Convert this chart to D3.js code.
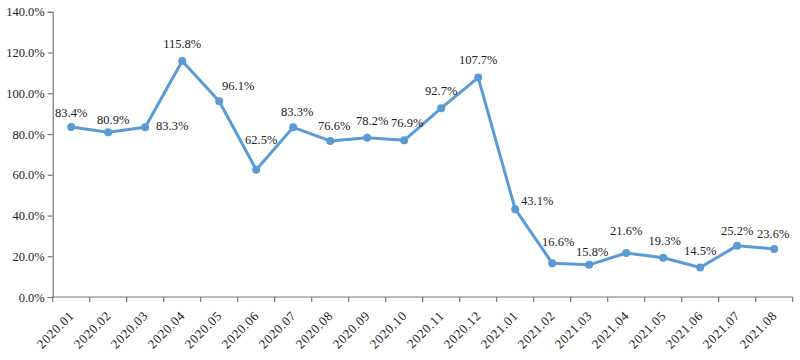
<!DOCTYPE html>
<html><head><meta charset="utf-8">
<script src="https://cdn.jsdelivr.net/npm/d3@7"></script>
<style>
html,body{margin:0;padding:0;background:#fff;}
svg text{font-family:"Liberation Serif","DejaVu Serif",serif;}
</style></head>
<body><svg id="c" width="800" height="360"></svg>
<script>
const categories = ["2020.01","2020.02","2020.03","2020.04","2020.05","2020.06","2020.07","2020.08","2020.09","2020.10","2020.11","2020.12","2021.01","2021.02","2021.03","2021.04","2021.05","2021.06","2021.07","2021.08"];
const values = [83.4,80.9,83.3,115.8,96.1,62.5,83.3,76.6,78.2,76.9,92.7,107.7,43.1,16.6,15.8,21.6,19.3,14.5,25.2,23.6];
const yTicks = [0,20,40,60,80,100,120,140];
// label offsets relative to point (style only)
const labelDx = [0,5,27,0,19,5,4,4,5,3,0,0,22,6,3,0,1.5,0,0,-1];
const labelDy = [-14.5,-13,-2,-17.7,-15.5,-30,-15.6,-15,-17,-17.5,-17.4,-17.6,-9,-21.5,-13,-22,-17,-17,-15,-15];

(function(){
const svg = d3.select("#c");
const mLeft = 52.7, mRight = 792.7, mTop = 11.8, mBottom = 297;
const x = d3.scaleBand().domain(categories).range([mLeft, mRight]);
const y = d3.scaleLinear().domain([0,140]).range([mBottom, mTop]);
const axisColor = "#777";
const textColor = "#222";

// y axis
const ya = svg.append("g").attr("transform",`translate(${mLeft},0)`)
  .call(d3.axisLeft(y).tickValues(yTicks).tickSize(5).tickPadding(3).tickFormat(d=>d.toFixed(1)+"%"));
ya.select(".domain").attr("stroke",axisColor).attr("stroke-width",1.2);
ya.selectAll(".tick line").attr("stroke",axisColor).attr("stroke-width",1.2);
ya.selectAll(".tick text").attr("fill",textColor).attr("font-size",12.5).attr("font-family","Liberation Serif");

// x axis
const xa = svg.append("g").attr("transform",`translate(0,${mBottom})`);
xa.append("line").attr("x1",mLeft).attr("x2",mRight).attr("stroke",axisColor).attr("stroke-width",1.2);
const bounds = categories.map(c=>x(c)).concat([mRight]);
xa.selectAll("line.tk").data(bounds).enter().append("line").attr("class","tk")
  .attr("x1",d=>d).attr("x2",d=>d).attr("y1",0).attr("y2",5)
  .attr("stroke",axisColor).attr("stroke-width",1.2);
xa.selectAll("text").data(categories).enter().append("text")
  .attr("transform",d=>`translate(${x(d)+x.bandwidth()/2-3},13) rotate(-45)`)
  .attr("text-anchor","end").attr("dy","0.71em")
  .attr("letter-spacing","0.6px")
  .attr("fill",textColor).attr("font-size",13).text(d=>d);

// line
const cx = (d,i)=>x(categories[i])+x.bandwidth()/2;
const line = d3.line().x((d,i)=>cx(d,i)).y(d=>y(d));
svg.append("path").datum(values).attr("d",line)
  .attr("fill","none").attr("stroke","#5B9BD5").attr("stroke-width",3).attr("stroke-linejoin","round");
svg.selectAll("circle.pt").data(values).enter().append("circle").attr("class","pt")
  .attr("cx",cx).attr("cy",d=>y(d)).attr("r",4).attr("fill","#5B9BD5");

// labels
svg.selectAll("text.lbl").data(values).enter().append("text").attr("class","lbl")
  .attr("x",(d,i)=>cx(d,i)+labelDx[i]).attr("y",(d,i)=>y(d)+labelDy[i])
  .attr("dy","0.35em").attr("text-anchor","middle")
  .attr("fill",textColor).attr("font-size",12.5).text(d=>d.toFixed(1)+"%");
})();
</script></body></html>
